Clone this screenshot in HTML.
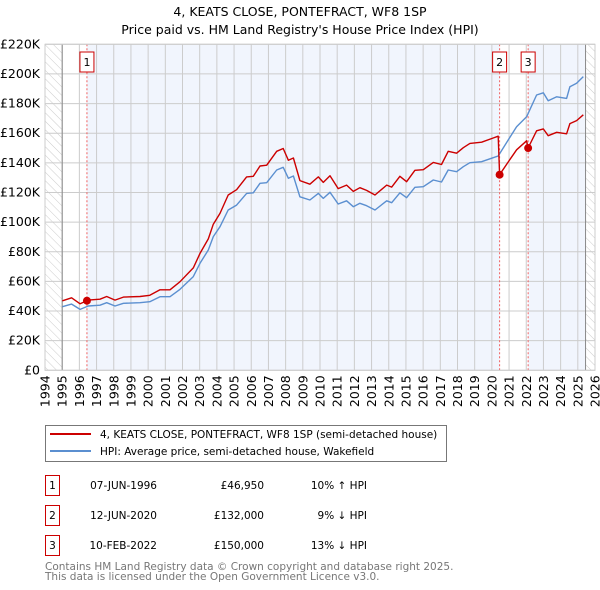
<!DOCTYPE html>
<html><head><meta charset="utf-8"><style>
body{margin:0;background:#fff;font-family:"DejaVu Sans","Liberation Sans",sans-serif;}
svg{display:block}
</style></head><body>
<svg id="chart" width="600" height="590" xmlns="http://www.w3.org/2000/svg" font-family="DejaVu Sans, Liberation Sans, sans-serif">
<defs><pattern id="hatch" width="6" height="6" patternUnits="userSpaceOnUse" patternTransform="rotate(-45)"><line x1="0" y1="0" x2="0" y2="6" stroke="#ccc" stroke-width="1"/></pattern></defs>
<text x="300" y="16" text-anchor="middle" font-size="12.5">4, KEATS CLOSE, PONTEFRACT, WF8 1SP</text>
<text x="300" y="34" text-anchor="middle" font-size="12.5">Price paid vs. HM Land Registry's House Price Index (HPI)</text>
<g id="plot"></g>
<g>
<rect x="45.5" y="425.5" width="401" height="36" fill="#fff" stroke="#777"/>
<line x1="50" y1="434" x2="91" y2="434" stroke="#cc0000" stroke-width="2"/>
<text x="100" y="438" font-size="10.5">4, KEATS CLOSE, PONTEFRACT, WF8 1SP (semi-detached house)</text>
<line x1="50" y1="451" x2="91" y2="451" stroke="#5b8fd0" stroke-width="2"/>
<text x="100" y="455" font-size="10.5">HPI: Average price, semi-detached house, Wakefield</text>
</g>
<g id="table" font-size="10.5"></g>
<text x="45" y="570" font-size="10.5" fill="#777">Contains HM Land Registry data © Crown copyright and database right 2025.</text>
<text x="45" y="580" font-size="10.5" fill="#777">This data is licensed under the Open Government Licence v3.0.</text>
</svg>
<script>
const hpiYears=[1995.01,1995.55,1996.04,1996.52,1997.2,1997.59,1998.07,1998.56,1999.53,2000.1,2000.69,2001.27,2001.85,2002.63,2003.02,2003.5,2003.79,2004.18,2004.66,2005.15,2005.73,2006.12,2006.51,2006.9,2007.48,2007.86,2008.16,2008.45,2008.83,2009.41,2009.9,2010.19,2010.58,2011.06,2011.55,2011.94,2012.32,2012.71,2013.2,2013.88,2014.17,2014.65,2015.04,2015.52,2016.01,2016.59,2017.07,2017.46,2017.95,2018.34,2018.72,2019.4,2020.08,2020.37,2020.95,2021.44,2022.02,2022.6,2022.99,2023.28,2023.77,2024.35,2024.54,2024.93,2025.32];
const hpiValues=[42.9,44.7,41.1,43.4,43.9,45.6,43.4,45.2,45.6,46.3,49.7,49.7,54.6,63.2,72.2,81.2,90.2,96.9,108.2,111.5,119.4,119.8,126.2,126.6,135.2,137.0,129.6,131.1,117.1,114.9,119.4,116.0,120.1,112.2,114.4,110.4,112.7,111.1,108.2,114.4,113.1,119.8,116.5,123.5,123.9,128.4,127.1,135.2,134.0,137.4,140.1,140.8,143.5,144.6,155.4,164.4,171.1,185.8,187.3,181.9,184.6,183.5,191.4,193.7,198.2];
const priceYears=[1995.01,1995.55,1996.04,1996.44,1996.52,1997.2,1997.59,1998.07,1998.56,1999.53,2000.1,2000.69,2001.27,2001.85,2002.63,2003.02,2003.5,2003.79,2004.18,2004.66,2005.15,2005.73,2006.12,2006.51,2006.9,2007.48,2007.86,2008.16,2008.45,2008.83,2009.41,2009.9,2010.19,2010.58,2011.06,2011.55,2011.94,2012.32,2012.71,2013.2,2013.88,2014.17,2014.65,2015.04,2015.52,2016.01,2016.59,2017.07,2017.46,2017.95,2018.34,2018.72,2019.4,2020.08,2020.37,2020.45,2020.95,2021.44,2022.02,2022.11,2022.6,2022.99,2023.28,2023.77,2024.35,2024.54,2024.93,2025.32];
const priceValues=[46.9,48.9,44.9,46.95,47.4,48.0,49.8,47.4,49.4,49.8,50.6,54.3,54.3,59.7,69.1,78.9,88.7,98.6,105.9,118.3,121.9,130.5,130.9,137.9,138.4,147.8,149.7,141.7,143.3,128.0,125.6,130.5,126.8,131.3,122.6,125.0,120.7,123.2,121.4,118.3,125.0,123.6,130.9,127.3,135.0,135.4,140.3,138.9,147.8,146.5,150.2,153.1,153.9,156.8,158.0,132.0,140.6,148.8,154.9,150.0,161.6,162.9,158.3,160.6,159.6,166.5,168.5,172.4];
const saleLabels=["1","2","3"];
const saleYears=[1996.44,2020.45,2022.11];
const saleValues=[46.95,132,150];
const saleDates=["07-JUN-1996","12-JUN-2020","10-FEB-2022"];
const salePrices=["£46,950","£132,000","£150,000"];
const saleHpi=["10% ↑ HPI","9% ↓ HPI","13% ↓ HPI"];
const yTicks=[0,20,40,60,80,100,120,140,160,180,200,220];
const xTicks=[1994,1995,1996,1997,1998,1999,2000,2001,2002,2003,2004,2005,2006,2007,2008,2009,2010,2011,2012,2013,2014,2015,2016,2017,2018,2019,2020,2021,2022,2023,2024,2025,2026];

const NS="http://www.w3.org/2000/svg";
const X0=45,X1=595,Y0=370.3,Y1=44.3;
const x=y=>X0+(y-1994)/(2026-1994)*(X1-X0);
const yv=v=>Y0-v/220*(Y0-Y1);
const plot=document.getElementById('plot');
function mk(tag,attrs,parent){const e=document.createElementNS(NS,tag);for(const k in attrs)e.setAttribute(k,attrs[k]);(parent||plot).appendChild(e);return e;}
let r=mk('rect',{x:X0,y:Y1,width:X1-X0,height:Y0-Y1,fill:'#fff'});


r=mk('rect',{x:x(saleYears[0]),y:Y1,width:x(saleYears[1])-x(saleYears[0]),height:Y0-Y1,fill:'#f1f5fd'});


r=mk('rect',{x:x(saleYears[2]),y:Y1,width:x(2025.45)-x(saleYears[2]),height:Y0-Y1,fill:'#f1f5fd'});


r=mk('rect',{x:X0,y:Y1,width:x(1995)-X0,height:Y0-Y1,fill:'url(#hatch)'});


r=mk('rect',{x:x(2025.45),y:Y1,width:X1-x(2025.45),height:Y0-Y1,fill:'url(#hatch)'});


yTicks.forEach(t=>{
 const l=mk('line',{x1:X0,x2:X1,y1:yv(t),y2:yv(t),stroke:'#ccc'});
 
 
 const tx=mk('text',{x:40,y:yv(t)+4,'text-anchor':'end','font-size':'12.5'});
 tx.textContent='£'+(t?t+'K':'0');
 
 
});
xTicks.forEach(t=>{
 const l=mk('line',{x1:x(t),x2:x(t),y1:Y1,y2:Y0,stroke:'#ccc'});
 
 
 const tx=mk('text',{x:0,y:0,'text-anchor':'end','font-size':'12.5',transform:`translate(${x(t)+4.5},${Y0+5}) rotate(-90)`});
 tx.textContent=t;
 
 
});
r=mk('line',{x1:x(1995),x2:x(1995),y1:Y1,y2:Y0,stroke:'#888'});


r=mk('line',{x1:x(2025.45),x2:x(2025.45),y1:Y1,y2:Y0,stroke:'#888'});


saleYears.forEach((s,i)=>{
 const l=mk('line',{x1:x(s),x2:x(s),y1:Y1,y2:Y0,stroke:'#f06060','stroke-dasharray':'2,2'});
 
 
 const b=mk('rect',{x:x(s)-7,y:52,width:14,height:20,fill:'#fff',stroke:'#cc0000'});
 
 
 const t=mk('text',{x:x(s),y:66,'text-anchor':'middle','font-size':'11'});
 t.textContent=saleLabels[i];
 
 
});
function path(xs,vs,color,name){
 const d=xs.map((a,i)=>(i?'L':'M')+x(a).toFixed(1)+','+yv(vs[i]).toFixed(1)).join('');
 const p=mk('path',{d:d,fill:'none',stroke:color,'stroke-width':'1.4','stroke-linejoin':'round'});
 
 
}
path(hpiYears,hpiValues,'#5b8fd0','hpi-line');
path(priceYears,priceValues,'#cc0000','price-line');
saleYears.forEach((s,i)=>{
 const c=mk('circle',{cx:x(s),cy:yv(saleValues[i]),r:4,fill:'#cc0000'});
 
 
});
r=mk('rect',{x:X0,y:Y1,width:X1-X0,height:Y0-Y1,fill:'none',stroke:'#ccc'});


const tb=document.getElementById('table');
saleLabels.forEach((lab,i)=>{
 const y0=475+i*30;
 let e=mk('rect',{x:45.5,y:y0+0.5,width:14,height:20,fill:'#fff',stroke:'#cc0000'},tb);
 
 
 e=mk('text',{x:52.5,y:y0+14,'text-anchor':'middle'},tb);e.textContent=lab;
 
 
 e=mk('text',{x:157,y:y0+14,'text-anchor':'end'},tb);e.textContent=saleDates[i];
 
 
 e=mk('text',{x:264,y:y0+14,'text-anchor':'end'},tb);e.textContent=salePrices[i];
 
 
 e=mk('text',{x:367,y:y0+14,'text-anchor':'end'},tb);e.textContent=saleHpi[i];
 
 
});
</script>
</body></html>
